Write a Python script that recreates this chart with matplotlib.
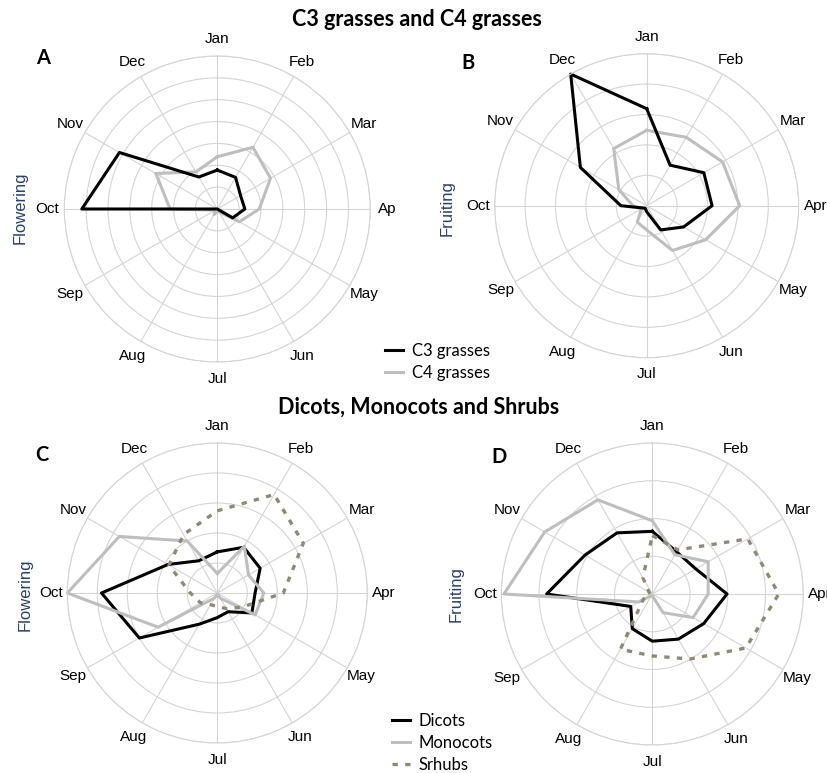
import numpy as np
import matplotlib.pyplot as plt

months = ['Jan', 'Feb', 'Mar', 'Apr', 'May', 'Jun', 'Jul', 'Aug', 'Sep', 'Oct', 'Nov', 'Dec']

# panel A - flowering, grasses (values in ring units)
a_c3 = [1.78, 1.67, 1.23, 1.26, 0.81, 0.0, 0.0, 0.0, 0.0, 6.2, 5.17, 1.69]
a_c4 = [2.39, 3.26, 2.81, 1.92, 1.17, 0.15, 0.1, 0.3, 0.1, 2.16, 3.25, 1.96]

# panel B - fruiting, grasses
b_c3 = [3.19, 1.54, 2.17, 2.15, 1.4, 0.92, 0.2, 0.1, 0.15, 0.85, 2.52, 5.0]
b_c4 = [2.48, 2.6, 2.88, 3.06, 2.24, 1.7, 0.8, 0.62, 0.2, 0.45, 1.06, 2.17]

# panel C - flowering, dicots / monocots / shrubs
c_dicots = [1.37, 1.76, 1.65, 1.26, 1.33, 0.72, 0.82, 1.2, 3.0, 3.86, 1.9, 1.24]
c_monocots = [0.65, 1.8, 1.2, 1.55, 1.46, 0.2, 0.05, 0.2, 2.28, 5.0, 3.77, 2.0]
c_shrubs = [2.74, 3.79, 3.31, 2.2, 0.95, 0.6, 0.45, 0.45, 0.65, 0.9, 1.86, 2.25]

# panel D - fruiting, dicots / monocots / shrubs
d_dicots = [1.66, 1.29, 1.33, 1.98, 1.57, 1.38, 1.25, 1.06, 0.66, 2.8, 2.06, 1.87]
d_monocots = [1.94, 1.2, 1.71, 1.48, 1.25, 0.57, 0.05, 0.05, 0.42, 3.93, 3.29, 2.88]
d_shrubs = [1.55, 1.35, 2.92, 3.35, 2.86, 1.99, 1.64, 1.69, 0.27, 0.05, 0.1, 0.5]

W, H = 827, 773
fig = plt.figure(figsize=(W / 100, H / 100), dpi=100)

grid_col = '#d4d4d4'
navy = '#2b3f6b'
theta = np.linspace(0, 2 * np.pi, 12, endpoint=False)


def radar(cx, cy, r, nrings, ylabel, lx, ly, apr='Apr'):
    ax = fig.add_axes([(cx - r) / W, 1 - (cy + r) / H, 2 * r / W, 2 * r / H], projection='polar')
    ax.set_theta_zero_location('N')
    ax.set_theta_direction(-1)
    ax.set_ylim(0, nrings)
    ax.set_xticks(theta)
    ax.set_yticks(np.arange(1, nrings + 1))
    ax.set_xticklabels([])
    ax.set_yticklabels([])
    ax.tick_params(length=0)
    ax.grid(color=grid_col, lw=0.8)
    ax.spines['polar'].set_color(grid_col)
    ax.spines['polar'].set_linewidth(0.8)
    labels = months[:3] + [apr] + months[4:]
    for t, lab in zip(theta, labels):
        ax.text(t, nrings * 1.11, lab, ha='center', va='center', fontsize=11,
                family='Liberation Sans', clip_on=False)
    fig.text(lx / W, 1 - ly / H, ylabel, rotation=90, ha='center', va='center',
             fontsize=12, color=navy, family='Liberation Sans')
    return ax


def plot(ax, vals, **kw):
    v = list(vals) + [vals[0]]
    t = list(theta) + [theta[0]]
    return ax.plot(t, v, clip_on=False, **kw)[0]


black = dict(color='black', lw=2.2)
gray = dict(color='#bebebe', lw=2.2)
dots = dict(color='#8c8a78', lw=2.4, dashes=(1.6, 2.2))

axA = radar(217.3, 209, 153, 7, 'Flowering', 20, 208, apr='Ap')
lA2 = plot(axA, a_c4, **gray)
lA1 = plot(axA, a_c3, **black)

axB = radar(646.7, 205.7, 152, 5, 'Fruiting', 447, 208)
plot(axB, b_c4, **gray)
plot(axB, b_c3, **black)

axC = radar(217.3, 593, 150, 5, 'Flowering', 25, 595)
lC1 = plot(axC, c_dicots, **black)
lC2 = plot(axC, c_monocots, **gray)
lC3 = plot(axC, c_shrubs, **dots)

axD = radar(652.3, 594, 151, 4, 'Fruiting', 456, 594)
plot(axD, d_dicots, **black)
plot(axD, d_monocots, **gray)
plot(axD, d_shrubs, **dots)

# titles and panel letters
fig.text(417 / W, 1 - 19 / H, 'C3 grasses and C4 grasses', ha='center', va='center',
         fontsize=15.5, fontweight='bold', family='Lato')
fig.text(419 / W, 1 - 407 / H, 'Dicots, Monocots and Shrubs', ha='center', va='center',
         fontsize=15.5, fontweight='bold', family='Lato')
for x, y, s in [(43, 58, 'A'), (468, 63, 'B'), (42, 455, 'C'), (499, 457, 'D')]:
    fig.text(x / W, 1 - y / H, s, ha='center', va='center', fontsize=14.5,
             fontweight='bold', family='Lato')

leg_kw = dict(loc='upper left', frameon=False, borderpad=0, borderaxespad=0,
              handlelength=1.05, handletextpad=0.55, labelspacing=0.36,
              prop={'family': 'Lato', 'size': 12})
fig.legend([lA1, lA2], ['C3 grasses', 'C4 grasses'],
           bbox_to_anchor=(385 / W, 1 - 343 / H), **leg_kw)
fig.legend([lC1, lC2, lC3], ['Dicots', 'Monocots', 'Srhubs'],
           bbox_to_anchor=(392 / W, 1 - 713 / H), **leg_kw)

fig.savefig('out.png', dpi=100)
